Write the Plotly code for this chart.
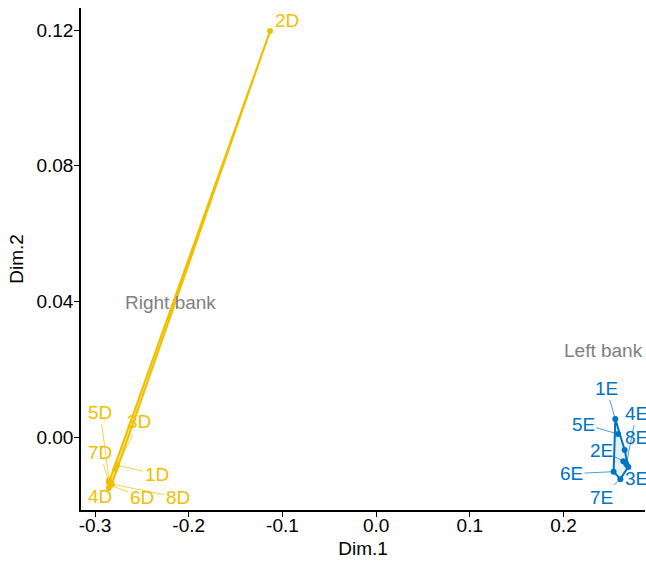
import plotly.graph_objects as go

# ---- data ----
d_labels = ["1D", "2D", "3D", "4D", "5D", "6D", "7D", "8D"]
d_x = [-0.2767, -0.1132, -0.2783, -0.2853, -0.2850, -0.2831, -0.2852, -0.2821]
d_y = [-0.0083, 0.1197, -0.0094, -0.0150, -0.0127, -0.0142, -0.0133, -0.0139]

e_labels = ["1E", "2E", "3E", "4E", "5E", "6E", "7E", "8E"]
e_x = [0.2553, 0.2639, 0.2692, 0.2671, 0.2583, 0.2535, 0.2607, 0.2653]
e_y = [0.0053, -0.0071, -0.0088, -0.0080, 0.0009, -0.0102, -0.0124, -0.0038]

group_names = ["Right bank", "Left bank"]
group_label_x = [-0.219, 0.2425]
group_label_y = [0.0398, 0.0256]

# label offsets (pixels, label relative to point) for repelled labels
d_off = {"1D": (40, 9), "2D": (17, -11), "3D": (24, -47), "4D": (-9, 9),
         "5D": (-9, -68), "6D": (31, 12), "7D": (-9, -30), "8D": (66, 13)}
e_off = {"1E": (-9, -31), "2E": (-22, -11), "3E": (8, 12), "4E": (10, -51),
         "5E": (-35, -10), "6E": (-42, 2), "7E": (-19, 18), "8E": (12, -12)}

YELLOW = "#EFC000"
BLUE = "#0073C2"
FONT = "Liberation Sans, Arial, sans-serif"
FS = 19


def hull(xs, ys):
    pts = sorted(set(zip(xs, ys)))
    if len(pts) <= 2:
        return pts

    def cross(o, a, b):
        return (a[0] - o[0]) * (b[1] - o[1]) - (a[1] - o[1]) * (b[0] - o[0])

    lower, upper = [], []
    for p in pts:
        while len(lower) >= 2 and cross(lower[-2], lower[-1], p) <= 0:
            lower.pop()
        lower.append(p)
    for p in reversed(pts):
        while len(upper) >= 2 and cross(upper[-2], upper[-1], p) <= 0:
            upper.pop()
        upper.append(p)
    return lower[:-1] + upper[:-1]


fig = go.Figure()

for xs, ys, col, fill in [(d_x, d_y, YELLOW, "rgba(239,192,0,0.5)"),
                          (e_x, e_y, BLUE, "rgba(0,115,194,0.10)")]:
    h = hull(xs, ys)
    hx = [p[0] for p in h] + [h[0][0]]
    hy = [p[1] for p in h] + [h[0][1]]
    fig.add_trace(go.Scatter(x=hx, y=hy, mode="lines", fill="toself",
                             fillcolor=fill, line=dict(color=col, width=2),
                             hoverinfo="skip", showlegend=False))
    fig.add_trace(go.Scatter(x=xs, y=ys, mode="markers",
                             marker=dict(color=col, size=6),
                             showlegend=False))

annotations = []
for labels, xs, ys, offs, col in [(d_labels, d_x, d_y, d_off, YELLOW),
                                  (e_labels, e_x, e_y, e_off, BLUE)]:
    for lab, x, y in zip(labels, xs, ys):
        ax, ay = offs[lab]
        annotations.append(dict(
            x=x, y=y, xref="x", yref="y", text=lab,
            showarrow=(lab != "2D"), arrowhead=0, arrowwidth=0.7,
            arrowcolor=col, ax=ax, ay=ay, standoff=0,
            xshift=(ax if lab == "2D" else 0), yshift=(-ay if lab == "2D" else 0),
            font=dict(color=col, size=FS, family=FONT)))

for name, gx, gy in zip(group_names, group_label_x, group_label_y):
    annotations.append(dict(x=gx, y=gy, xref="x", yref="y", text=name,
                            showarrow=False,
                            font=dict(color="#808080", size=FS, family=FONT)))

axis_common = dict(showgrid=False, zeroline=False, showline=True,
                   linecolor="black", linewidth=1.5, ticks="outside",
                   ticklen=5, tickwidth=1.2, tickcolor="black",
                   automargin=False,
                   tickfont=dict(size=FS, color="black", family=FONT),
                   title_font=dict(size=FS, color="black", family=FONT))

fig.update_layout(
    width=646, height=562,
    margin=dict(l=81, r=1, t=8, b=52),
    plot_bgcolor="white", paper_bgcolor="white",
    annotations=annotations,
    xaxis=dict(range=[-0.315, 0.287], tickvals=[-0.3, -0.2, -0.1, 0.0, 0.1, 0.2],
               ticktext=["-0.3", "-0.2", "-0.1", "0.0", "0.1", "0.2"],
               ticklabelstandoff=-8,
               title=dict(text="Dim.1", standoff=7), **axis_common),
    yaxis=dict(range=[-0.0215, 0.1265], tickvals=[0.0, 0.04, 0.08, 0.12],
               ticktext=["0.00", "0.04", "0.08", "0.12"],
               ticklabelstandoff=-3,
               title=dict(text="Dim.2", standoff=8), **axis_common),
)

fig.write_html("out.html", config={"displayModeBar": False},
               post_script="document.body.style.margin='0';")
